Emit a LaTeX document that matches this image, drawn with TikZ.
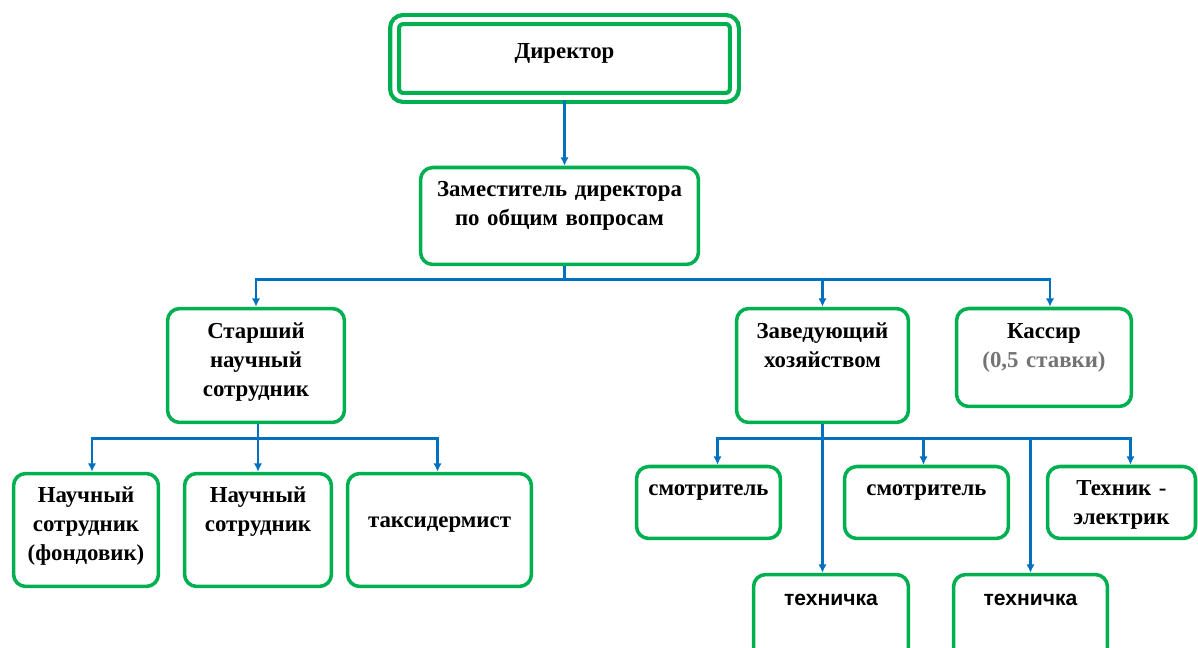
\documentclass[tikz,border=0pt]{standalone}
\usepackage{fontspec}
\setmainfont{Liberation Serif}
\newfontfamily\sansfont{Liberation Sans}
\usepackage{xcolor}
\usepackage{tikz}
\usetikzlibrary{arrows.meta, positioning, calc}
\definecolor{boxgreen}{RGB}{0,176,80}
\definecolor{lineblue}{RGB}{0,112,192}
\definecolor{notegray}{RGB}{115,115,115}

\begin{document}
\begin{tikzpicture}[x=0.02cm, y=-0.02cm, >={Latex[length=4.8pt, width=4.8pt]}]
        \tikzstyle{bx} = [rectangle, rounded corners=7pt, draw=boxgreen, line width=2pt, fill=white, inner sep=0pt]
        \tikzstyle{dbx} = [rectangle, rounded corners=5pt, draw=boxgreen, double=white, double distance=2.6pt, line width=2.4pt, inner sep=0pt]
        \tikzstyle{txt} = [anchor=base, align=center, text width=5.5cm, inner sep=0pt, font=\fontsize{13}{16.5}\selectfont\bfseries]
        \tikzstyle{stxt} = [txt, font=\fontsize{12}{14}\selectfont\sansfont\bfseries]
        \tikzstyle{arr} = [->, draw=lineblue, line width=1.6pt]

        \useasboundingbox (0,0) rectangle (1198,648);
        \clip (0,0) rectangle (1198,648);

        % Top levels
        \node (dir) [dbx, minimum width=6.8cm, minimum height=1.56cm] at (564.5,58.5) {};
        \node (dirlab) [txt] at ($(dir.north)+(0,41)$) {Директор};
        \node (dep) [bx, minimum width=5.56cm, minimum height=1.94cm] at (559.5,216) {};
        \node (deplab) [txt] at ($(dep.north)+(0,31)$) {Заместитель директора\\по общим вопросам};

        % Second level
        \node (sen) [bx, minimum width=3.54cm, minimum height=2.28cm] at (256,365.5) {};
        \node (senlab) [txt] at ($(sen.north)+(0,32)$) {Старший\\научный\\сотрудник};
        \node (zav) [bx, minimum width=3.44cm, minimum height=2.28cm] at (822.5,365.5) {};
        \node (zavlab) [txt] at ($(zav.north)+(0,32)$) {Заведующий\\хозяйством};
        \node (kas) [bx, minimum width=3.5cm, minimum height=1.96cm] at (1044,357.5) {};
        \node (kaslab) [txt] at ($(kas.north)+(0,32)$) {Кассир\\{\color{notegray}(0,5 ставки)}};

        % Science staff
        \node (n1) [bx, minimum width=2.9cm, minimum height=2.26cm] at (86,530) {};
        \node (n1lab) [txt] at ($(n1.north)+(0,31)$) {Научный\\сотрудник\\(фондовик)};
        \node (n2) [bx, minimum width=2.94cm, minimum height=2.26cm] at (258,530) {};
        \node (n2lab) [txt] at ($(n2.north)+(0,31)$) {Научный\\сотрудник};
        \node (tax) [bx, minimum width=3.68cm, minimum height=2.26cm] at (439.5,530) {};
        \node (taxlab) [txt] at ($(tax.north)+(0,56)$) {таксидермист};

        % Household staff
        \node (sm1) [bx, minimum width=2.88cm, minimum height=1.44cm] at (708.5,502.5) {};
        \node (sm1lab) [txt] at ($(sm1.north)+(0,31)$) {смотритель};
        \node (sm2) [bx, minimum width=3.28cm, minimum height=1.44cm] at (926.5,502.5) {};
        \node (sm2lab) [txt] at ($(sm2.north)+(0,31)$) {смотритель};
        \node (tech) [bx, minimum width=2.96cm, minimum height=1.44cm] at (1121.5,502.5) {};
        \node (techlab) [txt] at ($(tech.north)+(0,31)$) {Техник -\\электрик};
        \node (tn1) [bx, minimum width=3.1cm, minimum height=2.08cm] at (831,626.5) {};
        \node (tn1lab) [stxt] at ($(tn1.north)+(0,33)$) {техничка};
        \node (tn2) [bx, minimum width=3.08cm, minimum height=2.08cm] at (1030.5,626.5) {};
        \node (tn2lab) [stxt] at ($(tn2.north)+(0,33)$) {техничка};

        % Connections
        \draw [arr] (dir.south) -- (dir.south |- dep.north);
        \coordinate (b0) at (dir.south |- dep.south);
        \coordinate (b1) at ($(b0)+(0,13)$);
        \draw [arr] (b0) -- (b1) -| (sen.north);
        \draw [arr] (b0) -- (b1) -| (zav.north);
        \draw [arr] (b0) -- (b1) -| ($(kas.north)+(6,0)$);
        \coordinate (b2) at ($(sen.south)+(2,14)$);
        \draw [arr] (sen.south -| b2) -- (b2) -| ($(n1.north)+(6,0)$);
        \draw [arr] (sen.south -| b2) -- (b2) -| (n2.north);
        \draw [arr] (sen.south -| b2) -- (b2) -| ($(tax.north)+(-2,0)$);
        \coordinate (b3) at ($(zav.south)+(0,14)$);
        \draw [arr] (zav.south) -- (b3) -| ($(sm1.north)+(9,0)$);
        \draw [arr] (zav.south) -- (b3) -| ($(sm2.north)+(-3,0)$);
        \draw [arr] (zav.south) -- (b3) -| ($(tech.north)+(9,0)$);
        \draw [arr] (zav.south) -- (zav.south |- tn1.north);
        \draw [arr] (zav.south) -- (b3) -| (tn2.north);
    \end{tikzpicture}
\end{document}
